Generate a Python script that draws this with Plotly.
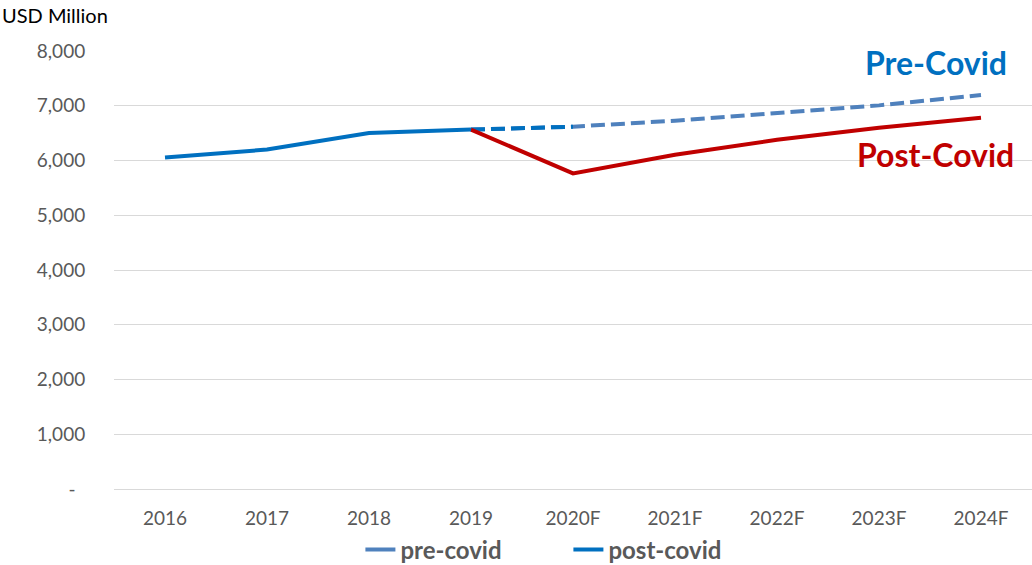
import plotly.graph_objects as go

years = ['2016', '2017', '2018', '2019', '2020F', '2021F', '2022F', '2023F', '2024F']
actual = [6055, 6200, 6502, 6564, None, None, None, None, None]
pre_covid = [None, None, None, 6564, 6618, 6727, 6862, 7007, 7195]
post_covid = [None, None, None, 6564, 5764, 6104, 6378, 6600, 6782]

y_ticks = [0, 1000, 2000, 3000, 4000, 5000, 6000, 7000, 8000]
y_ticktext = ['-\u00a0\u00a0'] + ['{:,}'.format(v) for v in y_ticks[1:]]

font_name = 'Lato'
gray = '#595959'
dark_blue = '#0070C0'
light_blue = '#4F81BD'
red = '#C00000'
dash_style = '14px,6px'

fig = go.Figure()

# forecast lines
fig.add_scatter(x=years, y=pre_covid, mode='lines',
                line=dict(color=light_blue, width=4, dash=dash_style),
                showlegend=False, hoverinfo='x+y', name='pre-covid')
fig.add_scatter(x=years[3:5], y=pre_covid[3:5], mode='lines',
                line=dict(color=dark_blue, width=4, dash=dash_style),
                showlegend=False, hoverinfo='skip', name='')
fig.add_scatter(x=years, y=post_covid, mode='lines',
                line=dict(color=red, width=4),
                showlegend=False, hoverinfo='x+y', name='post-covid')
fig.add_scatter(x=years, y=actual, mode='lines',
                line=dict(color=dark_blue, width=4),
                showlegend=False, hoverinfo='x+y', name='actual')

# legend entries
fig.add_scatter(x=[None], y=[None], mode='lines',
                line=dict(color=light_blue, width=4), name='pre-covid')
fig.add_scatter(x=[None], y=[None], mode='lines',
                line=dict(color=dark_blue, width=4), name='post-covid')

fig.add_annotation(text='USD Million', xref='paper', yref='paper',
                   x=-0.1245, y=1.082, xanchor='left', yanchor='middle',
                   showarrow=False, font=dict(family=font_name, size=20, color='black'))
fig.add_annotation(text='<b>Pre-Covid</b>', xref='paper', yref='paper',
                   x=0.8954, y=0.9745, xanchor='center', yanchor='middle',
                   showarrow=False, font=dict(family=font_name, size=32, color=dark_blue))
fig.add_annotation(text='<b>Post-Covid</b>', xref='paper', yref='paper',
                   x=0.8954, y=0.7626, xanchor='center', yanchor='middle',
                   showarrow=False, font=dict(family=font_name, size=32, color=red))

fig.update_xaxes(type='category', range=[-0.5, 8.5], showgrid=False,
                 showline=False, zeroline=False,
                 ticks='outside', ticklen=12, tickcolor='rgba(0,0,0,0)',
                 tickfont=dict(family=font_name, size=19, color=gray))
fig.update_yaxes(range=[0, 8000], tickvals=y_ticks, ticktext=y_ticktext,
                 showgrid=True, gridcolor='#D9D9D9', gridwidth=1,
                 zeroline=True, zerolinecolor='#D9D9D9', zerolinewidth=1,
                 showline=False, ticks='outside', ticklen=24, tickcolor='rgba(0,0,0,0)',
                 tickfont=dict(family=font_name, size=19, color=gray))

fig.update_layout(width=1032, height=565,
                  margin=dict(l=114, r=0, t=51, b=76, autoexpand=False),
                  paper_bgcolor='white', plot_bgcolor='white',
                  showlegend=True,
                  legend=dict(orientation='h', x=0.495, y=-0.139,
                              xanchor='center', yanchor='middle',
                              entrywidth=163,
                              font=dict(family=font_name, size=24, color=gray, weight='bold')))

# pin the figure to the window's top-left corner, no page margin
pin_js = ("document.body.style.margin='0';"
          "var gd=document.getElementById('{plot_id}');"
          "gd.style.position='fixed';gd.style.top='0';gd.style.left='0';")
fig.write_html('out.html', config={'displayModeBar': False}, post_script=pin_js)
